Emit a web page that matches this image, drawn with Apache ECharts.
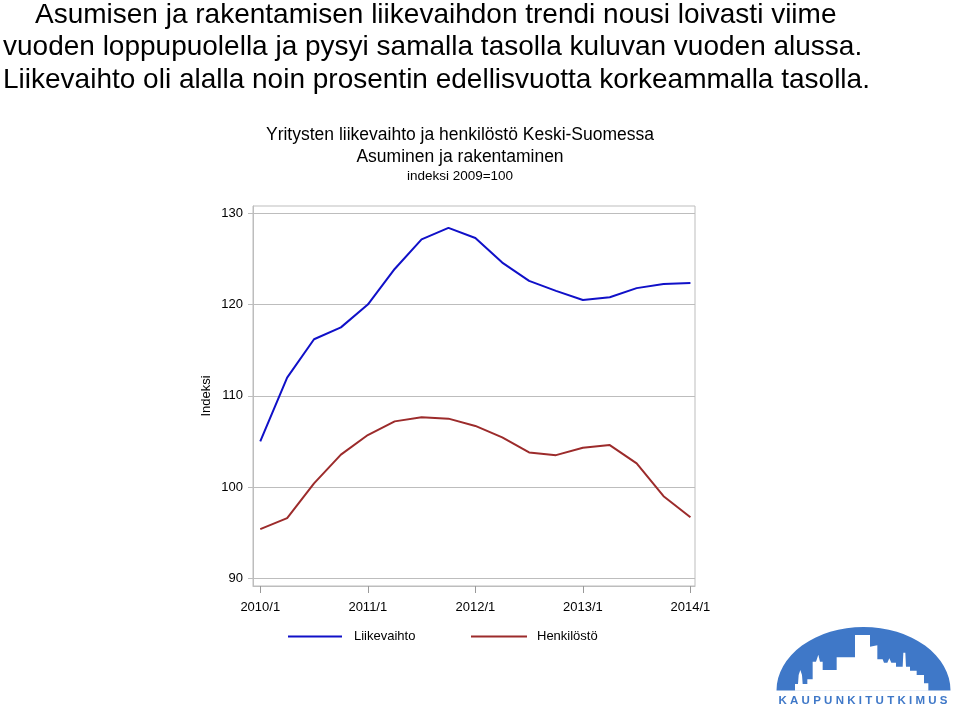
<!DOCTYPE html>
<html>
<head>
<meta charset="utf-8">
<script src="https://cdn.jsdelivr.net/npm/echarts@6/dist/echarts.min.js"></script>
<style>html,body{margin:0;padding:0;background:#fff}#c{width:960px;height:714px}</style>
</head>
<body>
<div id="c"></div>
<script>
const categories = ['2010/1','2010/2','2010/3','2010/4','2011/1','2011/2','2011/3','2011/4','2012/1','2012/2','2012/3','2012/4','2013/1','2013/2','2013/3','2013/4','2014/1'];
const liikevaihto = [105.0, 112.0, 116.2, 117.5, 120.0, 123.9, 127.15, 128.4, 127.3, 124.6, 122.6, 121.5, 120.5, 120.8, 121.8, 122.25, 122.35];
const henkilosto = [95.4, 96.6, 100.4, 103.55, 105.7, 107.2, 107.65, 107.5, 106.7, 105.45, 103.8, 103.5, 104.3, 104.6, 102.6, 99.0, 96.7];
const xTickIdx = [0, 4, 8, 12, 16];
const yTicks = [90, 100, 110, 120, 130];
const seriesNames = ['Liikevaihto', 'Henkilöstö'];
const headline = [
  'Asumisen ja rakentamisen liikevaihdon trendi nousi loivasti viime',
  'vuoden loppupuolella ja pysyi samalla tasolla kuluvan vuoden alussa.',
  'Liikevaihto oli alalla noin prosentin edellisvuotta korkeammalla tasolla.'
];
const chartTitle = ['Yritysten liikevaihto ja henkilöstö Keski-Suomessa', 'Asuminen ja rakentaminen', 'indeksi 2009=100'];

const FONT = '"Liberation Sans", Arial, sans-serif';
const BLUE = '#1010c8';
const RED = '#9c2b2b';
const GRID = '#bdbdbd';

const chart = echarts.init(document.getElementById('c'), null, {renderer: 'canvas'});

// logo helper (decorative)
const Z = (zx, zy) => [770 + zx / 3, 620 + zy / 3];
const skylineZ = [[75,212],[75,192],[84,192],[86,165],[91,150],[96,165],[98,192],[112,192],[112,178],[128,178],[128,125],[138,125],[145,104],[150,125],[158,125],[158,150],[200,150],[200,112],[255,112],[255,45],[300,45],[300,80],[322,76],[322,118],[338,118],[342,128],[352,128],[358,115],[364,128],[378,128],[378,140],[398,140],[400,98],[406,98],[408,140],[420,140],[420,152],[440,152],[440,165],[462,165],[462,190],[475,190],[475,212]];
const skyline = skylineZ.map(p => Z(p[0], p[1]));

const HS = {fontFamily: FONT, fontSize: 28, fontWeight: 'normal', color: '#000'};
const TS = {fontFamily: FONT, fontSize: 17.5, fontWeight: 'normal', color: '#000'};

const option = {
  backgroundColor: '#ffffff',
  animation: false,
  title: [
    {text: headline[0], left: 35, top: 1, padding: 0, textStyle: HS},
    {text: headline[1], left: 3, top: 33, padding: 0, textStyle: HS},
    {text: headline[2], left: 3, top: 66, padding: 0, textStyle: HS},
    {text: chartTitle[0], left: 460, top: 126, padding: 0, textAlign: 'center', textStyle: TS},
    {text: chartTitle[1], left: 460, top: 148, padding: 0, textAlign: 'center', textStyle: TS},
    {text: chartTitle[2], left: 460, top: 169, padding: 0, textAlign: 'center', textStyle: {fontFamily: FONT, fontSize: 13.5, fontWeight: 'normal', color: '#000'}}
  ],
  legend: [
    {data: [seriesNames[0]], left: 288, top: 630, padding: 0, icon: 'rect', itemWidth: 54, itemHeight: 2, textStyle: {fontFamily: FONT, fontSize: 13, color: '#000', padding: [0, 0, 0, 7]}},
    {data: [seriesNames[1]], left: 471, top: 630, padding: 0, icon: 'rect', itemWidth: 56, itemHeight: 2, textStyle: {fontFamily: FONT, fontSize: 13, color: '#000', padding: [0, 0, 0, 5]}}
  ],
  grid: {left: 253, right: 265, top: 206, bottom: 128, show: true, borderColor: GRID, borderWidth: 1, containLabel: false},
  xAxis: {
    type: 'value', min: -0.27, max: 16.17,
    axisLine: {show: true, onZero: false, lineStyle: {color: GRID}},
    axisTick: {show: true, length: 7, lineStyle: {color: '#999'}, customValues: xTickIdx},
    axisLabel: {customValues: xTickIdx, margin: 15, fontFamily: FONT, fontSize: 13, color: '#000', formatter: v => categories[Math.round(v)] || ''},
    splitLine: {show: false}
  },
  yAxis: {
    type: 'value', min: 89.16, max: 130.8,
    name: 'Indeksi', nameLocation: 'middle', nameGap: 40, nameRotate: 90,
    nameTextStyle: {fontFamily: FONT, fontSize: 13, color: '#000'},
    axisLine: {show: true, onZero: false, lineStyle: {color: GRID}},
    axisTick: {show: true, length: 5, lineStyle: {color: GRID}, customValues: yTicks},
    axisLabel: {customValues: yTicks, margin: 10, fontFamily: FONT, fontSize: 13, color: '#000'},
    splitLine: {show: true, lineStyle: {color: GRID, width: 1}}
  },
  series: [
    {name: seriesNames[0], type: 'line', data: liikevaihto.map((v, i) => [i, v]), symbol: 'none', lineStyle: {color: BLUE, width: 2}, itemStyle: {color: BLUE}},
    {name: seriesNames[1], type: 'line', data: henkilosto.map((v, i) => [i, v]), symbol: 'none', lineStyle: {color: RED, width: 2}, itemStyle: {color: RED}}
  ],
  graphic: [
    {type: 'sector', shape: {cx: 863.5, cy: 0, r: 87, startAngle: Math.PI, endAngle: 2 * Math.PI}, x: 0, y: 690.5, scaleY: 0.73, originX: 863.5, style: {fill: '#3f78c8'}},
    {type: 'polygon', shape: {points: skyline}, style: {fill: '#ffffff'}},
    {type: 'text', x: 863, y: 700.5, style: {text: 'KAUPUNKITUTKIMUS'.split('').join('\u2009\u200A'), fill: '#3f78c8', font: 'bold 11.5px ' + FONT, align: 'center', verticalAlign: 'middle'}}
  ]
};
chart.setOption(option);
</script>
</body>
</html>
